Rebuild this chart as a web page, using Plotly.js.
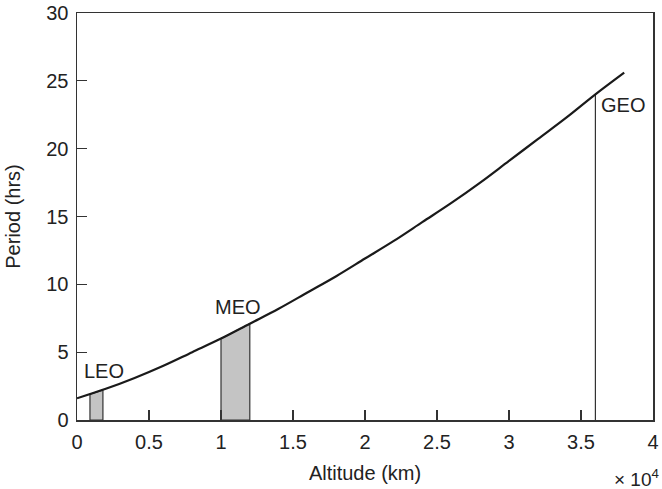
<!DOCTYPE html>
<html>
<head>
<meta charset="utf-8">
<script src="https://cdn.plot.ly/plotly-3.0.1.min.js"></script>
<style>html,body{margin:0;padding:0;background:#fff;}#chart{width:662px;height:489px;}</style>
</head>
<body>
<div id="chart"></div>
<script>
// Orbital period vs altitude
const altitudeKm = [0, 2000, 4000, 6000, 8000, 10000, 12000, 14000, 16000, 18000, 20000, 22000, 24000, 26000, 28000, 30000, 32000, 34000, 36000, 38000];
const periodHrs  = [1.6, 2.3, 3.1, 4.0, 5.0, 6.0, 7.1, 8.2, 9.4, 10.6, 11.9, 13.2, 14.6, 16.0, 17.5, 19.1, 20.7, 22.3, 24.0, 25.6];

const leoX = [900, 900, 1800, 1800, 900];
const leoY = [0, 1.9, 2.2, 0, 0];
const meoX = [10000, 10000, 12000, 12000, 10000];
const meoY = [0, 6.0, 7.1, 0, 0];
const geoX = [36000, 36000];
const geoY = [0, 24.0];

const xTickVals = [0, 5000, 10000, 15000, 20000, 25000, 30000, 35000, 40000];
const xTickText = ['0', '0.5', '1', '1.5', '2', '2.5', '3', '3.5', '4'];
const yTickVals = [0, 5, 10, 15, 20, 25, 30];

const labels = ['LEO', 'MEO', 'GEO'];
const labelX = [1850, 11200, 37950];
const labelY = [3.6, 8.3, 23.2];

const font = 'Liberation Sans, Arial, sans-serif';
const txt = '#222';
const fs = 20;

const traces = [
  {x: leoX, y: leoY, type: 'scatter', mode: 'lines', fill: 'toself', fillcolor: '#c4c4c4',
   line: {color: '#333', width: 1.2}, hoverinfo: 'skip'},
  {x: meoX, y: meoY, type: 'scatter', mode: 'lines', fill: 'toself', fillcolor: '#c4c4c4',
   line: {color: '#333', width: 1.2}, hoverinfo: 'skip'},
  {x: geoX, y: geoY, type: 'scatter', mode: 'lines', line: {color: '#333', width: 1.2}},
  {x: altitudeKm, y: periodHrs, type: 'scatter', mode: 'lines', line: {color: '#1a1a1a', width: 2.2, shape: 'spline'}}
];

const annotations = labels.map((t, i) => ({
  x: labelX[i], y: labelY[i], xref: 'x', yref: 'y', text: t, showarrow: false,
  font: {family: font, size: fs, color: txt}
}));
annotations.push({
  x: 1.014, y: -0.1425, xref: 'paper', yref: 'paper', xanchor: 'right', yanchor: 'middle',
  text: '× 10<sup>4</sup>', showarrow: false, font: {family: font, size: 19, color: txt}
});

const layout = {
  width: 662, height: 489,
  margin: {l: 77, r: 9, t: 13, b: 69},
  paper_bgcolor: '#fff', plot_bgcolor: '#fff',
  showlegend: false,
  font: {family: font, size: fs, color: txt},
  xaxis: {
    range: [0, 40000], tickvals: xTickVals, ticktext: xTickText,
    ticks: 'inside', ticklen: 10, tickwidth: 1.2, tickcolor: '#333',
    showline: true, linecolor: '#333', linewidth: 1.5, mirror: true,
    showgrid: false, zeroline: false, ticklabelstandoff: 3,
    tickfont: {family: font, size: fs, color: txt},
    title: {text: 'Altitude (km)', font: {family: font, size: fs, color: txt}, standoff: 14}
  },
  yaxis: {
    range: [0, 30], tickvals: yTickVals,
    ticks: 'inside', ticklen: 10, tickwidth: 1.2, tickcolor: '#333',
    showline: true, linecolor: '#333', linewidth: 1.5, mirror: true,
    showgrid: false, zeroline: false, ticklabelstandoff: 3,
    tickfont: {family: font, size: fs, color: txt},
    title: {text: 'Period (hrs)', font: {family: font, size: fs, color: txt}, standoff: 20}
  },
  annotations: annotations
};

Plotly.newPlot('chart', traces, layout, {displayModeBar: false, staticPlot: true});
</script>
</body>
</html>
